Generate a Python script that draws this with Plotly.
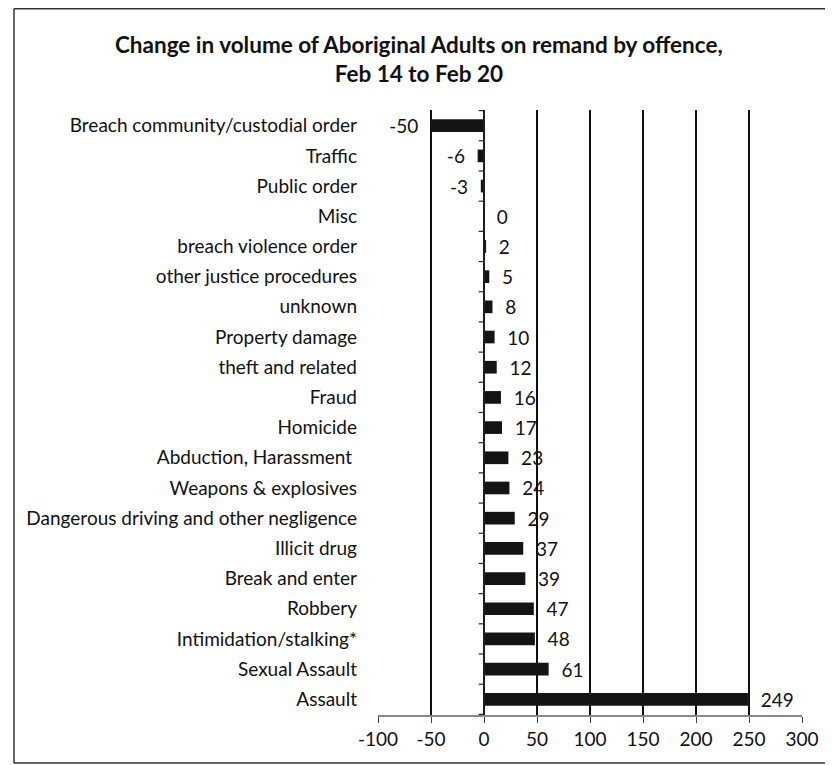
import plotly.graph_objects as go

categories = [
    "Breach community/custodial order", "Traffic", "Public order", "Misc",
    "breach violence order", "other justice procedures", "unknown",
    "Property damage", "theft and related", "Fraud", "Homicide",
    "Abduction, Harassment ", "Weapons & explosives",
    "Dangerous driving and other negligence", "Illicit drug",
    "Break and enter", "Robbery", "Intimidation/stalking*",
    "Sexual Assault", "Assault",
]
values = [-50, -6, -3, 0, 2, 5, 8, 10, 12, 16, 17, 23, 24, 29, 37, 39, 47, 48, 61, 249]
x_ticks = [-100, -50, 0, 50, 100, 150, 200, 250, 300]

FONT = "Lato, 'Open Sans', sans-serif"
NB = "\u00a0"

labels = [(str(v) + NB * 2) if v < 0 else (NB * 2 + str(v)) for v in values]

fig = go.Figure(go.Bar(
    y=categories, x=values, orientation="h",
    marker=dict(color="#141414", line=dict(width=0)),
    text=labels, textposition="outside", constraintext="none",
    textfont=dict(family=FONT, size=19, color="#111"),
    cliponaxis=False, width=0.42,
))

shapes = []
n = len(categories)
# small ticks left of zero axis (between categories)
for i in range(n + 1):
    shapes.append(dict(type="line", xref="x", yref="y",
                       x0=-5, x1=0, y0=i - 0.5, y1=i - 0.5,
                       line=dict(color="#222", width=1.2)))
# zero axis
shapes.append(dict(type="line", xref="x", yref="paper", x0=0, x1=0, y0=0, y1=1,
                   line=dict(color="#222", width=1.5)))
# chart frame (left, top, bottom edges; right edge lies outside the picture)
FX0, FX1, FY0, FY1 = -0.8585, 1.2, -0.0793, 1.1675
frame_style = dict(color="#333", width=1.5)
shapes += [
    dict(type="line", xref="paper", yref="paper", x0=FX0, x1=FX0, y0=FY0, y1=FY1, line=frame_style),
    dict(type="line", xref="paper", yref="paper", x0=FX0, x1=FX1, y0=FY1, y1=FY1, line=frame_style),
    dict(type="line", xref="paper", yref="paper", x0=FX0, x1=FX1, y0=FY0, y1=FY0, line=frame_style),
]

fig.update_layout(
    width=825, height=757,
    margin=dict(l=370, r=31, t=102, b=50),
    paper_bgcolor="white", plot_bgcolor="white",
    font=dict(family=FONT, size=19, color="#111"),
    title=dict(
        text="<b>Change in volume of Aboriginal Adults on remand by offence,<br>Feb 14 to Feb 20</b>",
        x=0.498, xanchor="center", y=0.941, yanchor="top",
        font=dict(family=FONT, size=22.5, color="#111"),
    ),
    showlegend=False,
    shapes=shapes,
    bargap=0.58,
)
fig.update_xaxes(
    range=[-100, 300], tickvals=x_ticks, ticktext=[str(t) for t in x_ticks],
    showgrid=True, gridcolor="#111", gridwidth=1.5,
    zeroline=False, showline=True, linecolor="#888", linewidth=1.5,
    ticks="outside", ticklen=6, tickcolor="#444",
    tickfont=dict(family=FONT, size=19, color="#111"),
)
fig.update_yaxes(
    categoryorder="array", categoryarray=categories, autorange="reversed",
    showgrid=False, zeroline=False, showline=False, ticks="",
    tickfont=dict(family=FONT, size=19, color="#111"),
    ticklabelstandoff=20,
)

fig.write_html("out.html")
